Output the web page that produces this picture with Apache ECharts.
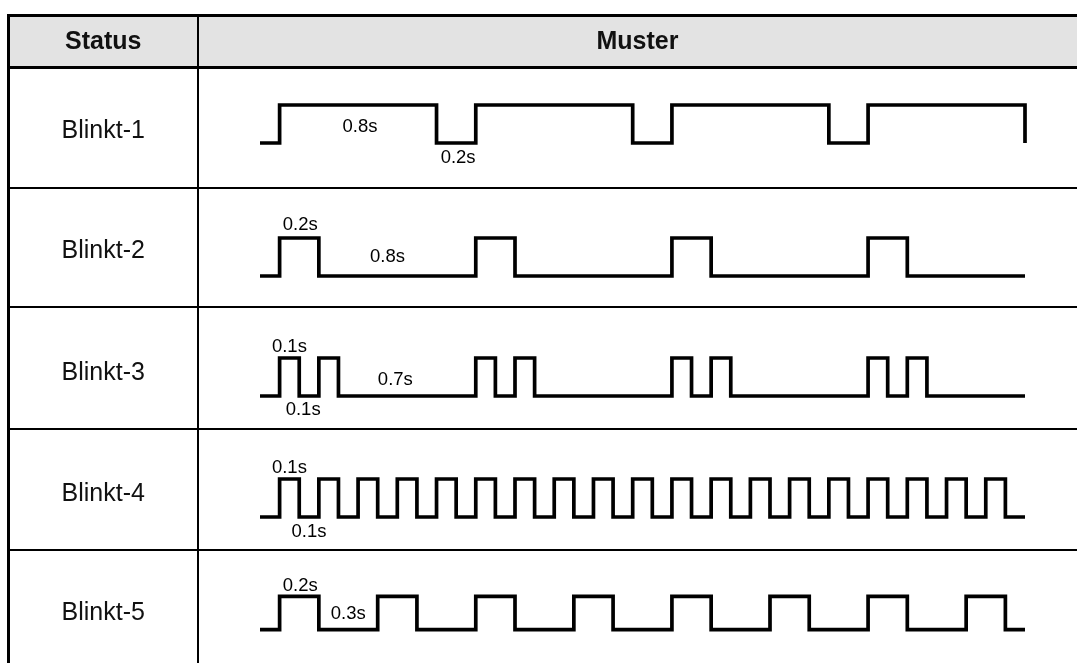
<!DOCTYPE html>
<html><head><meta charset="utf-8">
<script src="https://cdn.jsdelivr.net/npm/echarts@6/dist/echarts.min.js"></script>
<style>html,body{margin:0;padding:0;background:#fff}#c{width:1077px;height:663px}</style>
</head><body><div id="c"></div>
<script>
// ---- data ----
const headers = ['Status', 'Muster'];
const statusLabels = ['Blinkt-1', 'Blinkt-2', 'Blinkt-3', 'Blinkt-4', 'Blinkt-5'];

// step waveforms: [time (s), level]  (level 1 = on, 0 = off)
const wave1 = [[-0.1,0],[0,1],[0.8,0],[1,1],[1.8,0],[2,1],[2.8,0],[3,1],[3.8,0]];
const wave2 = [[-0.1,0],[0,1],[0.2,0],[1,1],[1.2,0],[2,1],[2.2,0],[3,1],[3.2,0],[3.8,0]];
const wave3 = [[-0.1,0],[0,1],[0.1,0],[0.2,1],[0.3,0],[1,1],[1.1,0],[1.2,1],[1.3,0],
               [2,1],[2.1,0],[2.2,1],[2.3,0],[3,1],[3.1,0],[3.2,1],[3.3,0],[3.8,0]];
const wave4 = [[-0.1,0],[0,1],[0.1,0],[0.2,1],[0.3,0],[0.4,1],[0.5,0],[0.6,1],[0.7,0],[0.8,1],[0.9,0],
               [1,1],[1.1,0],[1.2,1],[1.3,0],[1.4,1],[1.5,0],[1.6,1],[1.7,0],[1.8,1],[1.9,0],
               [2,1],[2.1,0],[2.2,1],[2.3,0],[2.4,1],[2.5,0],[2.6,1],[2.7,0],[2.8,1],[2.9,0],
               [3,1],[3.1,0],[3.2,1],[3.3,0],[3.4,1],[3.5,0],[3.6,1],[3.7,0],[3.8,0]];
const wave5 = [[-0.1,0],[0,1],[0.2,0],[0.5,1],[0.7,0],[1,1],[1.2,0],[1.5,1],[1.7,0],
               [2,1],[2.2,0],[2.5,1],[2.7,0],[3,1],[3.2,0],[3.5,1],[3.7,0],[3.8,0]];

// duration annotations: [time, level, text]
const notes1 = [[0.41,0.42,'0.8s'],[0.91,-0.39,'0.2s']];
const notes2 = [[0.105,1.34,'0.2s'],[0.55,0.5,'0.8s']];
const notes3 = [[0.05,1.29,'0.1s'],[0.59,0.42,'0.7s'],[0.12,-0.37,'0.1s']];
const notes4 = [[0.05,1.29,'0.1s'],[0.15,-0.39,'0.1s']];
const notes5 = [[0.105,1.32,'0.2s'],[0.35,0.47,'0.3s']];

const waves = [wave1, wave2, wave3, wave4, wave5];
const notes = [notes1, notes2, notes3, notes4, notes5];

// ---- layout ----
const FONT = '"Liberation Sans", Arial, Helvetica, sans-serif';
const W = 1077, H = 663;
const tableLeft = 8.5, colX = 198, tableTop = 15.5, headBottom = 67.5;
const rowLines = [188, 307, 429, 550];
const labelY = [131, 251, 373, 494, 613];
const highY = [105, 238, 358, 479, 601];
const AMP = 38;

const grids = [], xAxes = [], yAxes = [], series = [];
waves.forEach((w, i) => {
  grids.push({left: 260, width: 765, top: highY[i] - AMP, height: AMP * 3});
  xAxes.push({type: 'value', gridIndex: i, min: -0.1, max: 3.8, show: false});
  yAxes.push({type: 'value', gridIndex: i, min: -1, max: 2, show: false});
  series.push({
    type: 'line', xAxisIndex: i, yAxisIndex: i, data: w, step: 'end',
    symbol: 'none', silent: true,
    lineStyle: {color: '#000', width: 3.7, join: 'miter', cap: 'butt'}
  });
  series.push({
    type: 'scatter', xAxisIndex: i, yAxisIndex: i, data: notes[i],
    symbolSize: 1, itemStyle: {color: 'rgba(0,0,0,0)', opacity: 1}, silent: true,
    label: {show: true, position: 'inside', formatter: p => p.value[2],
            color: '#000', opacity: 1, fontSize: 18.5, fontFamily: FONT}
  });
});

const g = [];
// header background
g.push({type: 'rect', shape: {x: tableLeft, y: tableTop, width: W - tableLeft, height: headBottom - tableTop},
        style: {fill: '#e3e3e3'}, z: 0});
// row dividers
rowLines.forEach(y => g.push({type: 'line', shape: {x1: tableLeft, y1: y, x2: W, y2: y},
        style: {stroke: '#000', lineWidth: 2}, z: 1}));
// column divider
g.push({type: 'line', shape: {x1: colX, y1: tableTop, x2: colX, y2: H}, style: {stroke: '#000', lineWidth: 2}, z: 1});
// thick borders
g.push({type: 'line', shape: {x1: tableLeft - 1.5, y1: tableTop, x2: W, y2: tableTop}, style: {stroke: '#000', lineWidth: 3}, z: 2});
g.push({type: 'line', shape: {x1: tableLeft - 1.5, y1: headBottom, x2: W, y2: headBottom}, style: {stroke: '#000', lineWidth: 3}, z: 2});
g.push({type: 'line', shape: {x1: tableLeft, y1: tableTop - 1.5, x2: tableLeft, y2: H}, style: {stroke: '#000', lineWidth: 3}, z: 2});
// header texts
g.push({type: 'text', x: (tableLeft + colX) / 2, y: 42, z: 3,
        style: {text: headers[0], font: 'bold 25px ' + FONT, fill: '#111', textAlign: 'center', textVerticalAlign: 'middle'}});
g.push({type: 'text', x: (colX + W) / 2, y: 42, z: 3,
        style: {text: headers[1], font: 'bold 25px ' + FONT, fill: '#111', textAlign: 'center', textVerticalAlign: 'middle'}});
statusLabels.forEach((s, i) => g.push({type: 'text', x: (tableLeft + colX) / 2, y: labelY[i], z: 3,
        style: {text: s, font: '25px ' + FONT, fill: '#111', textAlign: 'center', textVerticalAlign: 'middle'}}));

const chart = echarts.init(document.getElementById('c'), null, {renderer: 'canvas'});
chart.setOption({
  animation: false,
  backgroundColor: '#fff',
  grid: grids, xAxis: xAxes, yAxis: yAxes, series: series,
  graphic: g
});
</script></body></html>
